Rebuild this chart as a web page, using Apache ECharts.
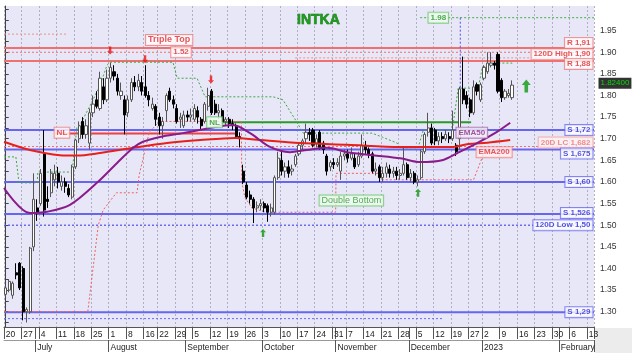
<!DOCTYPE html>
<html><head><meta charset="utf-8">
<script src="https://cdn.jsdelivr.net/npm/echarts@6/dist/echarts.min.js"></script>
<style>html,body{margin:0;padding:0;background:#fff}#c{width:632px;height:354px}</style>
</head><body><div id="c"></div>
<script>
// ---------- categories (trading calendar) ----------
const startDate = '2022-06-20', endDate = '2023-02-14';
const holidays = ['2022-08-15', '2022-11-01', '2022-12-26'];
const monthNames = {'01':'2023','02':'February','07':'July','08':'August','09':'September','10':'October','11':'November','12':'December'};
function buildDates(){
  const out=[]; let d=new Date(startDate+'T00:00:00Z'); const e=new Date(endDate+'T00:00:00Z');
  while(d<=e){ const wd=d.getUTCDay(); const s=d.toISOString().slice(0,10);
    if(wd!==0&&wd!==6&&holidays.indexOf(s)<0) out.push(s);
    d=new Date(d.getTime()+86400000); }
  return out;
}
const dates = buildDates();

// ---------- OHLC ----------
const opens = [
1.34,1.35,1.338,1.39,1.412,1.40,1.30,1.30,1.45,1.54,
1.55,1.665,1.56,1.575,1.605,1.62,1.59,1.60,1.585,1.565,
1.635,1.70,1.74,1.71,1.69,1.76,1.79,1.77,1.82,1.79,
1.84,1.855,1.84,1.80,1.79,1.76,1.79,1.83,1.82,1.83,
1.82,1.80,1.77,1.775,1.75,1.73,1.765,1.81,1.79,1.77,
1.745,1.73,1.755,1.75,1.745,1.765,1.745,1.74,1.775,1.81,
1.78,1.76,1.765,1.74,1.745,1.735,1.73,1.705,1.625,1.593,
1.57,1.56,1.54,1.545,1.55,1.545,1.53,1.53,1.61,1.65,
1.625,1.635,1.625,1.64,1.665,1.685,1.70,1.715,1.72,1.69,
1.715,1.69,1.66,1.635,1.645,1.64,1.625,1.66,1.665,1.655,
1.655,1.64,1.66,1.685,1.675,1.665,1.625,1.635,1.61,1.62,
1.63,1.62,1.625,1.615,1.62,1.64,1.61,1.62,1.60,1.61,
1.67,1.715,1.725,1.72,1.695,1.705,1.70,1.705,1.70,1.685,
1.70,1.815,1.80,1.79,1.76,1.825,1.79,1.84,1.855,1.87,
1.875,1.895,1.835,1.795,1.80,1.795];
const highs = [
1.36,1.375,1.37,1.412,1.415,1.405,1.31,1.45,1.62,1.56,
1.63,1.72,1.59,1.63,1.64,1.635,1.615,1.61,1.595,1.64,
1.70,1.74,1.75,1.745,1.77,1.80,1.81,1.855,1.84,1.86,
1.876,1.87,1.85,1.83,1.80,1.80,1.84,1.845,1.85,1.845,
1.87,1.81,1.795,1.78,1.76,1.75,1.805,1.818,1.80,1.78,
1.76,1.765,1.765,1.77,1.78,1.775,1.75,1.785,1.818,1.815,
1.79,1.78,1.77,1.75,1.75,1.745,1.735,1.715,1.64,1.60,
1.58,1.565,1.555,1.56,1.555,1.55,1.55,1.615,1.67,1.67,
1.645,1.65,1.64,1.665,1.69,1.70,1.735,1.725,1.725,1.71,
1.72,1.695,1.665,1.65,1.655,1.655,1.67,1.675,1.675,1.68,
1.665,1.67,1.71,1.695,1.68,1.67,1.645,1.64,1.635,1.645,
1.64,1.635,1.635,1.63,1.68,1.645,1.63,1.625,1.615,1.675,
1.715,1.76,1.735,1.725,1.715,1.715,1.72,1.715,1.765,1.69,
1.82,1.89,1.81,1.795,1.835,1.83,1.83,1.87,1.90,1.90,
1.88,1.90,1.84,1.815,1.815,1.835];
const lows = [
1.335,1.345,1.33,1.375,1.35,1.28,1.275,1.295,1.44,1.51,
1.545,1.52,1.54,1.565,1.59,1.585,1.58,1.575,1.565,1.56,
1.63,1.69,1.70,1.70,1.675,1.75,1.77,1.765,1.78,1.785,
1.83,1.835,1.80,1.79,1.71,1.75,1.785,1.81,1.81,1.80,
1.795,1.775,1.765,1.73,1.71,1.70,1.74,1.785,1.77,1.735,
1.725,1.725,1.74,1.74,1.74,1.735,1.72,1.735,1.765,1.755,
1.755,1.745,1.735,1.73,1.725,1.72,1.70,1.68,1.595,1.56,
1.55,1.505,1.53,1.535,1.53,1.508,1.52,1.525,1.605,1.615,
1.61,1.61,1.615,1.635,1.66,1.675,1.69,1.695,1.68,1.68,
1.675,1.665,1.615,1.625,1.63,1.635,1.605,1.65,1.645,1.65,
1.63,1.635,1.655,1.665,1.655,1.62,1.615,1.60,1.60,1.61,
1.61,1.61,1.605,1.605,1.615,1.605,1.60,1.595,1.59,1.605,
1.665,1.705,1.685,1.685,1.685,1.69,1.695,1.69,1.695,1.66,
1.675,1.78,1.77,1.75,1.755,1.80,1.785,1.835,1.85,1.865,
1.86,1.805,1.785,1.79,1.795,1.79];
const closes = [
1.355,1.37,1.366,1.385,1.355,1.30,1.305,1.447,1.56,1.53,
1.62,1.535,1.555,1.62,1.62,1.60,1.60,1.59,1.57,1.635,
1.697,1.73,1.71,1.73,1.76,1.78,1.775,1.84,1.79,1.84,
1.865,1.845,1.81,1.81,1.755,1.79,1.83,1.82,1.835,1.81,
1.80,1.79,1.78,1.745,1.73,1.74,1.80,1.79,1.78,1.74,
1.75,1.755,1.75,1.755,1.77,1.75,1.73,1.78,1.80,1.76,
1.76,1.765,1.74,1.745,1.735,1.73,1.705,1.70,1.60,1.565,
1.56,1.54,1.545,1.55,1.54,1.53,1.54,1.61,1.655,1.625,
1.635,1.62,1.63,1.66,1.685,1.695,1.715,1.71,1.685,1.70,
1.68,1.675,1.625,1.645,1.64,1.645,1.66,1.665,1.655,1.665,
1.635,1.66,1.685,1.675,1.665,1.625,1.63,1.61,1.62,1.635,
1.62,1.625,1.615,1.62,1.64,1.61,1.62,1.60,1.605,1.67,
1.71,1.725,1.69,1.695,1.705,1.70,1.71,1.70,1.72,1.67,
1.815,1.79,1.78,1.76,1.82,1.81,1.825,1.865,1.875,1.875,
1.87,1.81,1.795,1.81,1.805,1.824];

// ---------- moving averages (x = trading-day index) ----------
const ema200X = [-0.5,6.9,15.5,20.4,27.0,36.5,46.2,55.7,65.7,72.9,84.3,97.8,113,128.2,132.5,137.9,144.5];
const ema200Y = [1.693,1.674,1.662,1.661,1.667,1.679,1.690,1.697,1.702,1.697,1.690,1.686,1.681,1.681,1.688,1.691,1.697];
const ema50X = [-0.5,6.9,11.8,18.4,26.1,31.9,36.5,39.3,44.2,50.8,58.5,65.1,70.0,75.7,81.4,86.3,92.1,97.8,105.2,113.0,118.7,125.3,129.4,135.0,140.7,144.5];
const ema50Y = [1.586,1.528,1.531,1.547,1.598,1.644,1.679,1.693,1.704,1.713,1.725,1.732,1.713,1.681,1.669,1.674,1.679,1.669,1.662,1.655,1.646,1.651,1.667,1.690,1.716,1.737];

// ---------- trailing stop lines ----------
const redTrailX = [-0.5,23.5,26.5,27.9,31.7,37.6,38.2,41.1,44.0,67.5,67.6,68.5,70.5,74.5,94.5,94.6,107.5,107.6,134.0,136.5,138.0];
const redTrailY = [1.30,1.30,1.50,1.535,1.575,1.575,1.615,1.715,1.74,1.74,1.60,1.565,1.54,1.53,1.53,1.62,1.62,1.605,1.605,1.657,1.682];
const greenTrailX = [-0.5,2.9,3.8,9.0,9.2,19.0,20.4,21.3,25.0,27.0,29.0,29.9,47.9,49.1,54.8,57.1,76.6,79.4,83.5,85.2,104.9,107.8,112.1,113.0,118.1,119.6,127.9,129.6,135.3,136.5,139.3,145.1];
const greenTrailY = [1.658,1.658,1.598,1.598,1.623,1.623,1.727,1.732,1.790,1.824,1.870,1.877,1.877,1.840,1.840,1.797,1.797,1.790,1.737,1.713,1.713,1.704,1.690,1.679,1.679,1.720,1.720,1.817,1.817,1.864,1.875,1.875];

// ---------- horizontal levels ----------
const resistanceLevels = [1.91, 1.88];
const supportLevels = [1.72, 1.675, 1.60, 1.526, 1.299];
const high120 = 1.90, low120 = 1.50, lc20 = 1.682;
const rightLabelValues = [1.91, 1.90, 1.88, 1.72, 1.682, 1.675, 1.60, 1.526, 1.50, 1.299];
const rightLabelTexts = ['R 1,91','120D High 1,90','R 1,88','S 1,72','20D LC 1,682','S 1,675','S 1,60','S 1,526','120D Low 1,50','S 1,29'];
const rightLabelKinds = ['red','red','red','blue','pink','blue','blue','blue','blue','blue'];
// partial segments [x0, x1, value]
const redNL = [14.1, 66.3, 1.712];
const greenNL = [62.0, 133.3, 1.738];
const oldHighDots = [-0.5, 17.5, 1.942];
const highDots = [82.9, 168.5, 1.887];
const targetDots = [118.7, 168.5, 1.98];
const lowDots = [-0.5, 125.3, 1.284];
const targetVertical = [130.2, 1.98, 1.745];

// ---------- annotations ----------
const annoTexts = ['Triple Top','1.52','NL','NL','Double Bottom','EMA50','EMA200','1.98'];
const annoX = [46.8, 50.2, 16.1, 59.8, 99.0, 133.5, 139.9, 123.9];
const annoY = [1.9285, 1.90, 1.714, 1.738, 1.557, 1.714, 1.669, 1.98];
const annoKinds = ['red','red','red','green','green','purple','redFill','green'];
const downArrows = [[29.9,1.904],[39.9,1.884],[58.8,1.837]];
const upArrows = [[73.7,1.482],[118.1,1.575]];
const bigUpArrow = [[149.1,1.822]];

// ---------- axis ticks ----------
const yTickLabels = [1.30,1.35,1.40,1.45,1.50,1.55,1.60,1.65,1.70,1.75,1.80,1.85,1.90,1.95];
const yTickMarks = [1.275,1.30,1.325,1.35,1.375,1.40,1.425,1.45,1.475,1.50,1.525,1.55,1.575,1.60,1.625,1.65,1.675,1.70,1.725,1.75,1.775,1.80,1.825,1.85,1.875,1.90,1.925,1.95,1.975,2.0];
const yMin = 1.2646, yMax = 2.007;

// ================= build =================
const FF = 'Liberation Sans, Arial, sans-serif';
const n = dates.length;
const XL = -0.5, XR = n - 0.5;
const wd = s => new Date(s+'T00:00:00Z').getUTCDay();
const isWeekStart = dates.map((d,i)=> i===0 || wd(d) <= wd(dates[i-1]));
const isMonthStart = dates.map((d,i)=> i>0 && d.slice(5,7)!==dates[i-1].slice(5,7));

const candleData = opens.map((o,i)=>[o, closes[i], lows[i], highs[i]]);
const zip = (xs,ys)=>xs.map((x,i)=>[x,ys[i]]);
const lastClose = closes[closes.length-1];

const boxStyles = {
  red:    {color:'#e42a2a', backgroundColor:'#ffffff', borderColor:'#f07c7c'},
  blue:   {color:'#2a2ad8', backgroundColor:'#ffffff', borderColor:'#6a6af2'},
  pink:   {color:'#f07070', backgroundColor:'#fff4f4', borderColor:'#f5a0a0'},
  green:  {color:'#229922', backgroundColor:'#f3fcf3', borderColor:'#6cc56c'},
  purple: {color:'#8b2d8b', backgroundColor:'#f5eef7', borderColor:'#a566a5'},
  redFill:{color:'#e83030', backgroundColor:'#fff0f0', borderColor:'#f08080'}
};
const rightShift = [-5, 2, 3, 0, -4, 4, 0, -1, 0, 0];
function boxLabel(kind, text, extra){
  return Object.assign({show:true, formatter:text, fontSize:8, fontWeight:'bold', fontFamily:FF,
    padding:[1,2,0,2], borderWidth:1, lineHeight:9}, boxStyles[kind], extra||{});
}
function seg(x0,x1,v,ls,z){
  return {type:'line', xAxisIndex:2, yAxisIndex:0, data:[[x0,v],[x1,v]], symbol:'none', silent:true, lineStyle:ls, z:z||1};
}
const RED_SOLID = {color:'#f07070', width:2};
const BLUE_SOLID = {color:'#6666f0', width:2};

const series = [];
resistanceLevels.forEach(v=>series.push(seg(XL,XR,v,RED_SOLID)));
supportLevels.forEach(v=>series.push(seg(XL,XR,v,BLUE_SOLID)));
series.push(seg(XL,XR,high120,{color:'#f07070',width:1,type:[2,2]}));
series.push(seg(XL,XR,lc20,{color:'#f07070',width:1,type:[2,2]}));
series.push(seg(XL,XR,low120,{color:'#5a5af0',width:1.3,type:[2,2]}));
series.push(seg(redNL[0],redNL[1],redNL[2],{color:'#f04040',width:2}));
series.push(seg(greenNL[0],greenNL[1],greenNL[2],{color:'#2a9a2a',width:2}));
series.push(seg(oldHighDots[0],oldHighDots[1],oldHighDots[2],{color:'#f09090',width:1,type:[2,2]}));
series.push(seg(highDots[0],highDots[1],highDots[2],{color:'#f09090',width:1,type:[2,2]}));
series.push(seg(targetDots[0],targetDots[1],targetDots[2],{color:'#44b044',width:1,type:[2,2]}));
series.push(seg(lowDots[0],lowDots[1],lowDots[2],{color:'#6a6af0',width:1,type:[2,2]}));
series.push({type:'line', xAxisIndex:2, data:[[targetVertical[0],targetVertical[1]],[targetVertical[0],targetVertical[2]]],
  symbol:'none', silent:true, lineStyle:{color:'#5050f0',width:1,type:[2,2]}, z:1});
// trails
series.push({type:'line', xAxisIndex:2, data:zip(redTrailX,redTrailY), symbol:'none', silent:true,
  lineStyle:{color:'#f06060',width:1,type:[2,2]}, z:2});
series.push({type:'line', xAxisIndex:2, data:zip(greenTrailX,greenTrailY), symbol:'none', silent:true,
  lineStyle:{color:'#3caa3c',width:1,type:[2,2]}, z:2});
// candles
series.push({type:'candlestick', xAxisIndex:0, yAxisIndex:0, data:candleData, barWidth:2.6, z:3,
  itemStyle:{color:'#ffffff', color0:'#000000', borderColor:'#555555', borderColor0:'#000000', borderWidth:1}
});
// EMAs
series.push({type:'line', xAxisIndex:2, data:zip(ema200X,ema200Y), symbol:'none', smooth:0.3, silent:true,
  lineStyle:{color:'#e8201c',width:2}, z:4});
series.push({type:'line', xAxisIndex:2, data:zip(ema50X,ema50Y), symbol:'none', smooth:0.3, silent:true,
  lineStyle:{color:'#8a1c8a',width:2}, z:4});
// right-hand level labels
series.push({type:'scatter', xAxisIndex:2, symbolSize:1, itemStyle:{color:'rgba(0,0,0,0)'}, silent:true, z:10,
  data: rightLabelValues.map((v,i)=>({value:[XR,v], label:boxLabel(rightLabelKinds[i], rightLabelTexts[i], {position:'left', distance:1, offset:[0,rightShift[i]]})}))
});
// last price tag on the axis
series.push({type:'scatter', xAxisIndex:2, symbolSize:1, itemStyle:{color:'rgba(0,0,0,0)'}, silent:true, z:12, clip:false,
  data:[{value:[XR,lastClose], label:{show:true, position:'right', distance:4, offset:[0,-2], formatter:lastClose.toFixed(5),
    color:'#00ff00', backgroundColor:'#000000', padding:[2,2,1,2], fontSize:8, fontFamily:FF}}]
});
// annotations
series.push({type:'scatter', xAxisIndex:2, symbolSize:1, itemStyle:{color:'rgba(0,0,0,0)'}, silent:true, z:10,
  data: annoTexts.map((t,i)=>({value:[annoX[i],annoY[i]], label:boxLabel(annoKinds[i], t,
    i===0?{position:'inside',fontSize:9}:(i===4?{position:'inside',fontSize:9,fontWeight:'normal'}:{position:'inside'}))}))
});
const UP='path://M5,0L10,5L7,5L7,12L3,12L3,5L0,5Z';
const DOWN='path://M3,0L7,0L7,7L10,7L5,12L0,7L3,7Z';
series.push({type:'scatter', xAxisIndex:2, symbol:DOWN, symbolSize:[6,8], itemStyle:{color:'#ee1111'}, data:downArrows, silent:true, z:10});
series.push({type:'scatter', xAxisIndex:2, symbol:UP, symbolSize:[6,8], itemStyle:{color:'#119911'}, data:upArrows, silent:true, z:10});
series.push({type:'scatter', xAxisIndex:2, symbol:UP, symbolSize:[9,13], itemStyle:{color:'#119911'}, data:bigUpArrow, silent:true, z:10});

const option = {
  animation:false,
  backgroundColor:'#ffffff',
  title:{text:'INTKA', left:292, top:8, textStyle:{color:'#1f9a1f', fontSize:14, fontWeight:'bold', fontFamily:FF, textBorderColor:'#0b6e0b', textBorderWidth:0.6}},
  grid:{left:4, right:38, top:6, bottom:27, show:true, backgroundColor:'#e7e7f7', borderWidth:0, containLabel:false, outerBoundsMode:'none'},
  xAxis:[
    {type:'category', data:dates, gridIndex:0, position:'bottom', boundaryGap:true,
      axisLine:{show:true, lineStyle:{color:'#555', width:1}},
      axisTick:{show:true, length:12, interval:(i)=>isWeekStart[i]||isMonthStart[i], lineStyle:{color:'#555'}},
      axisLabel:{show:true, interval:(i)=>isWeekStart[i], formatter:(v)=>String(+v.slice(8)), align:'left', margin:3, fontSize:8.5, color:'#222', fontFamily:FF},
      splitLine:{show:true, interval:(i)=>isWeekStart[i], lineStyle:{color:'#b0b0c0', width:1, type:[2,2]}}},
    {type:'category', data:dates, gridIndex:0, position:'bottom', offset:13, boundaryGap:true,
      axisLine:{show:true, lineStyle:{color:'#999', width:1}},
      axisTick:{show:true, length:12, interval:(i)=>isMonthStart[i], lineStyle:{color:'#555'}},
      axisLabel:{show:true, interval:(i)=>isMonthStart[i], formatter:(v)=>monthNames[v.slice(5,7)]||'', align:'left', margin:3, fontSize:8.5, color:'#222', fontFamily:FF},
      splitLine:{show:false}},
    {type:'value', gridIndex:0, min:XL, max:XR, show:false}
  ],
  yAxis:[{type:'value', gridIndex:0, position:'right', min:yMin, max:yMax, scale:true,
    axisLine:{show:true, lineStyle:{color:'#444'}},
    axisTick:{show:true, length:3, customValues:yTickMarks, lineStyle:{color:'#444'}},
    axisLabel:{show:true, customValues:yTickLabels, formatter:(v)=>v.toFixed(2), fontSize:8.5, color:'#333', margin:6, fontFamily:FF},
    splitLine:{show:false}}],
  graphic:[{type:'rect', left:595, top:328, shape:{width:37, height:25}, style:{fill:'#ececec'}, silent:true}],
  series: series
};
const chart = echarts.init(document.getElementById('c'), null, {renderer:'canvas'});
chart.setOption(option);
</script></body></html>
